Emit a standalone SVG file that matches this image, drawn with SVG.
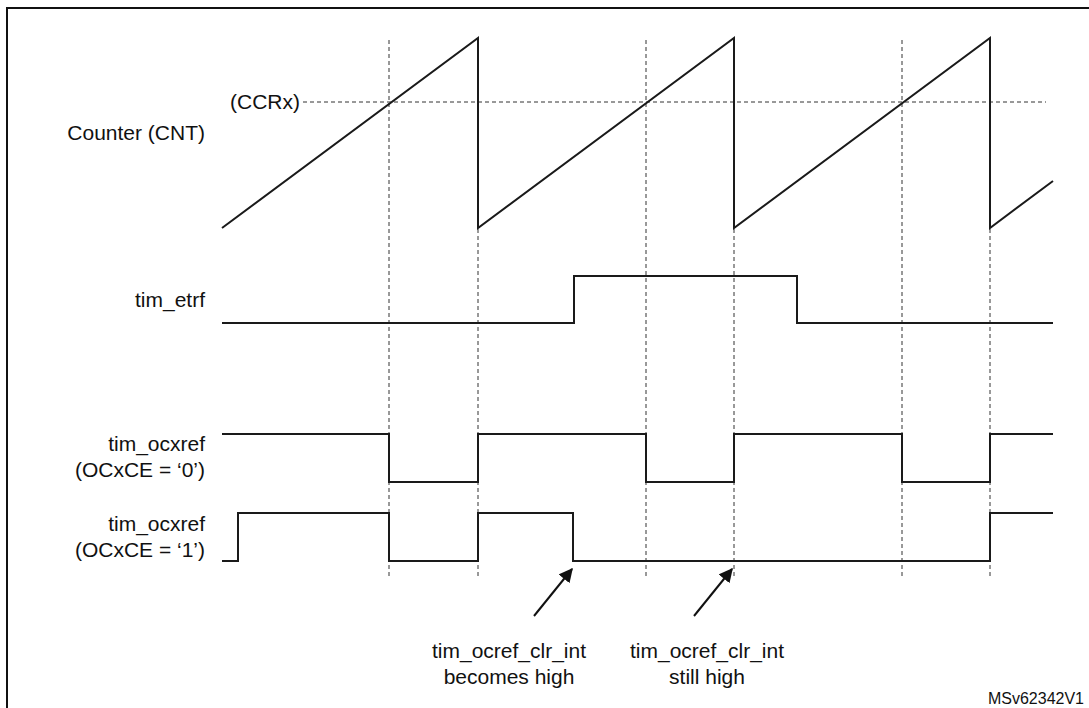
<svg xmlns="http://www.w3.org/2000/svg" width="1089" height="708" viewBox="0 0 1089 708">
<defs>
<style>
.sig{fill:none;stroke:#1a1a1a;stroke-width:2;stroke-linejoin:miter}
.dash{fill:none;stroke:#333;stroke-width:1;stroke-dasharray:4 3}
.lbl{font-family:"Liberation Sans",Arial,sans-serif;font-size:21px;fill:#111}
.arr{stroke:#111;stroke-width:2;fill:none}
</style>
<marker id="ah" viewBox="0 0 10 10" refX="9" refY="5" markerWidth="7" markerHeight="7" orient="auto"><path d="M0,0 L10,5 L0,10 z" fill="#111"/></marker>
</defs>
<rect width="1089" height="708" fill="#fff"/>
<path d="M7,710 V8 H1095" fill="none" stroke="#111" stroke-width="2"/>
<g id="grid">
<path class="dash" d="M389,40 V577 M478,40 V577 M646,40 V577 M734,40 V577 M902,40 V577 M990,40 V577 M303,102 H1046"/>
</g>
<g id="counter">
<text class="lbl" x="205" y="140" text-anchor="end">Counter (CNT)</text>
<text class="lbl" x="230" y="109">(CCRx)</text>
<path class="sig" d="M222,228 L478,38 V228 L734,38 V228 L990,38 V228 L1053,181"/>
</g>
<g id="etrf">
<text class="lbl" x="205" y="307" text-anchor="end">tim_etrf</text>
<path class="sig" d="M222,323 H574 V276 H797 V323 H1053"/>
</g>
<g id="ocx0">
<text class="lbl" x="205" y="451" text-anchor="end">tim_ocxref</text>
<text class="lbl" x="205" y="477" text-anchor="end">(OCxCE = ‘0’)</text>
<path class="sig" d="M222,434 H389 V482 H478 V434 H646 V482 H734 V434 H902 V482 H990 V434 H1053"/>
</g>
<g id="ocx1">
<text class="lbl" x="205" y="531" text-anchor="end">tim_ocxref</text>
<text class="lbl" x="205" y="557" text-anchor="end">(OCxCE = ‘1’)</text>
<path class="sig" d="M222,561 H238 V513 H389 V561 H478 V513 H573 V561 H990 V513 H1053"/>
</g>
<g id="connectors">
<line class="arr" x1="534" y1="616" x2="572" y2="569" marker-end="url(#ah)"/>
<line class="arr" x1="694" y1="616" x2="732" y2="569" marker-end="url(#ah)"/>
</g>
<g id="notes">
<text class="lbl" x="509" y="658" text-anchor="middle">tim_ocref_clr_int</text>
<text class="lbl" x="509" y="684" text-anchor="middle">becomes high</text>
<text class="lbl" x="707" y="658" text-anchor="middle">tim_ocref_clr_int</text>
<text class="lbl" x="707" y="684" text-anchor="middle">still high</text>
<text x="1084" y="704" text-anchor="end" font-family="'Liberation Sans',Arial,sans-serif" font-size="16" fill="#111">MSv62342V1</text>
</g>
</svg>
